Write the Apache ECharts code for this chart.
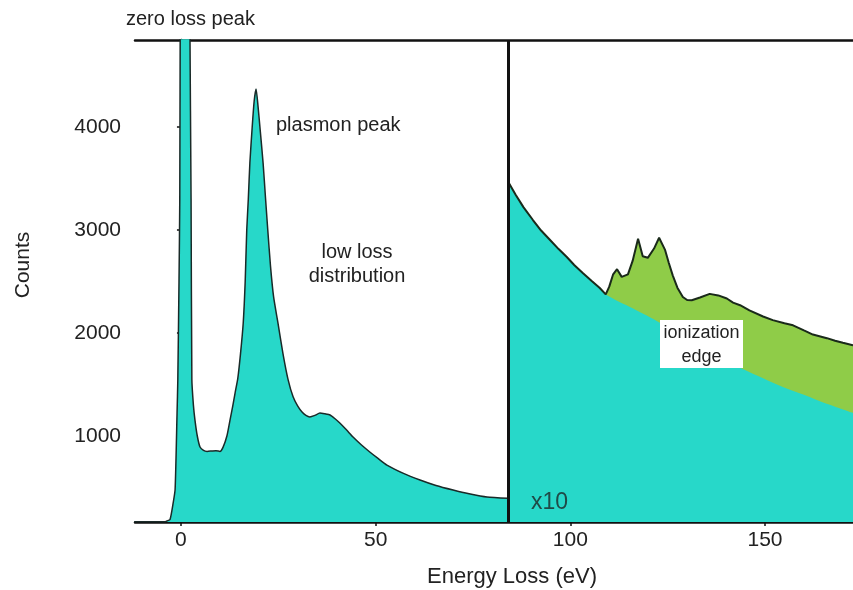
<!DOCTYPE html>
<html>
<head>
<meta charset="utf-8">
<script src="https://cdn.jsdelivr.net/npm/echarts@6/dist/echarts.min.js"></script>
<style>
  html, body { margin: 0; padding: 0; background: #fff; }
  #chart { width: 853px; height: 590px; }
</style>
</head>
<body>
<div id="chart"></div>
<script>
// low loss part (left panel), eV / counts
const lowEnergy = [-12, -4, -3.6, -2.8, -2, -1.5, -1, -0.8, -0.5, -0.3, 0, 1, 2, 2.3, 2.6, 2.8, 3.2, 3.6, 4.2, 4.9,
  5.8, 6.7, 8, 9, 10, 10.8, 11.8, 12.6, 13.3, 13.9, 14.6, 15.3, 16, 16.5, 16.9, 17.3, 17.7, 18.3, 18.8, 19.3,
  19.8, 20.4, 21.1, 21.7, 22.3, 23, 23.8, 24.9, 26.2, 27.5, 28.8, 30, 31.1, 32.1, 33.1, 34.4, 35.7, 37, 38.3,
  39.5, 40.8, 42.5, 44.2, 46.3, 48.5, 50.7, 52.9, 57, 61.4, 65.5, 69.9, 74, 78.6, 84]
const lowCounts = [168, 168, 175, 190, 350, 480, 1220, 1550, 2500, 3300, 8000, 20000, 8000, 5000, 3300, 1550, 1300, 1155, 1000, 893,
  860, 850, 855, 858, 850, 890, 1000, 1155, 1290, 1417, 1560, 1800, 2100, 2500, 3000, 3300, 3650, 4000, 4250, 4370,
  4200, 3950, 3650, 3320, 3000, 2650, 2350, 2100, 1800, 1550, 1380, 1290, 1233, 1200, 1185, 1200, 1223, 1215, 1204,
  1170, 1126, 1060, 990, 915, 845, 780, 718, 640, 573, 520, 476, 440, 408, 395]

// core loss part (right panel, x10)
const highEnergy = [84, 86, 88, 90.4, 92.5, 94.8, 97, 99.1, 101, 103.2, 105.5, 107.5, 109.1, 110, 111, 112, 113.2, 114.8,
  116, 117.4, 118.6, 119.9, 121.5, 122.8, 124.3, 125.3, 126.3, 127.5, 128.9, 130, 131.2, 133.3, 135.8, 138, 140.2,
  141.8, 143.6, 146, 149.5, 152, 155, 157.2, 160, 162.3, 165.9, 168, 170, 172.6]
const totalCounts = [3470, 3340, 3220, 3097, 2995, 2903, 2815, 2738, 2660, 2583, 2505, 2440, 2375, 2450, 2570, 2620, 2545, 2570,
  2700, 2915, 2745, 2730, 2820, 2925, 2810, 2680, 2560, 2440, 2350, 2320, 2318, 2345, 2380, 2365, 2335,
  2295, 2270, 2220, 2160, 2125, 2095, 2075, 2025, 1985, 1950, 1925, 1905, 1880]

const bgEnergy = [84, 86, 88, 90.4, 92.5, 94.8, 97, 99.1, 101, 103.2, 105.5, 107.5, 109.1, 116, 123, 130, 137, 144.3,
  149.5, 154.6, 160, 163.3, 168, 172.6]
const bgCounts = [3470, 3340, 3220, 3097, 2995, 2903, 2815, 2738, 2660, 2583, 2505, 2440, 2375, 2240, 2100, 1940, 1790, 1650,
  1560, 1476, 1400, 1350, 1285, 1225]

const xTicks = [0, 50, 100, 150]
const yTicks = [1000, 2000, 3000, 4000]

const pairs = (xs, ys) => xs.map((x, i) => [x, ys[i]])

const cyan = '#27d8c9'
const green = '#8fcc48'
const font = 'Liberation Sans, Arial, sans-serif'

const chart = echarts.init(document.getElementById('chart'))

chart.setOption({
  animation: false,
  grid: { left: 135, right: 0, top: 40, bottom: 68 },
  xAxis: [
    {
      type: 'value',
      min: -11.8,
      max: 172.6,
      axisLine: { lineStyle: { color: '#111', width: 2.5 } },
      axisTick: { customValues: xTicks, length: 4, lineStyle: { color: '#111', width: 1.5 } },
      axisLabel: { customValues: xTicks, color: '#222', fontSize: 21, fontFamily: font, margin: 8 },
      splitLine: { show: false },
    },
    {
      // 只画顶部边框
      type: 'value',
      position: 'top',
      min: -11.8,
      max: 172.6,
      axisLine: { lineStyle: { color: '#111', width: 2.5 } },
      axisTick: { show: false },
      axisLabel: { show: false },
      splitLine: { show: false },
    },
  ],
  yAxis: {
    type: 'value',
    min: 165,
    max: 4845,
    axisLine: { show: true, lineStyle: { color: '#111', width: 2.5 } },
    axisTick: { show: true, customValues: yTicks, length: 4, lineStyle: { color: '#111', width: 1.5 } },
    axisLabel: {
      customValues: yTicks,
      color: '#222',
      fontSize: 21,
      fontFamily: font,
      margin: 14,
      formatter: (v) => String(v),
    },
    splitLine: { show: false },
  },
  series: [
    {
      type: 'line',
      data: pairs(lowEnergy, lowCounts),
      symbol: 'none',
      smooth: 0.2,
      lineStyle: { color: '#1a2a28', width: 1.5 },
      areaStyle: { color: cyan, opacity: 1, origin: 'start' },
      z: 2,
      markLine: {
        silent: true,
        symbol: 'none',
        label: { show: false },
        lineStyle: { color: '#111', width: 3, type: 'solid' },
        data: [{ xAxis: 84 }],
      },
    },
    {
      // 边 + 背景，绿色填充
      type: 'line',
      data: pairs(highEnergy, totalCounts),
      symbol: 'none',
      lineStyle: { width: 0 },
      areaStyle: { color: green, opacity: 1, origin: 'start' },
      z: 2,
    },
    {
      // 边下面的背景
      type: 'line',
      data: pairs(bgEnergy, bgCounts),
      symbol: 'none',
      smooth: 0.3,
      lineStyle: { width: 0 },
      areaStyle: { color: cyan, opacity: 1, origin: 'start' },
      z: 3,
    },
    {
      type: 'line',
      data: pairs(highEnergy, totalCounts),
      symbol: 'none',
      lineStyle: { color: '#1a2a1a', width: 2 },
      z: 4,
    },
  ],
  graphic: [
    {
      type: 'text', x: 126, y: 9, z: 10,
      style: { text: 'zero loss peak', fontSize: 20, fontFamily: font, fill: '#222' },
    },
    {
      type: 'text', x: 276, y: 115, z: 10,
      style: { text: 'plasmon peak', fontSize: 20, fontFamily: font, fill: '#222' },
    },
    {
      type: 'text', x: 357, y: 264, z: 10,
      style: { text: 'low loss\ndistribution', fontSize: 20, fontFamily: font, fill: '#222', align: 'center', verticalAlign: 'middle', lineHeight: 24 },
    },
    {
      type: 'rect', x: 660, y: 320, z: 10,
      shape: { x: 0, y: 0, width: 83, height: 48 },
      style: { fill: '#fff' },
    },
    {
      type: 'text', x: 701.5, y: 345, z: 11,
      style: { text: 'ionization\nedge', fontSize: 18, fontFamily: font, fill: '#222', align: 'center', verticalAlign: 'middle', lineHeight: 24 },
    },
    {
      type: 'text', x: 531, y: 491, z: 10,
      style: { text: 'x10', fontSize: 23, fontFamily: font, fill: '#1f4a47' },
    },
    {
      // x 轴标题，居中于原图位置
      type: 'text', x: 512, y: 577, z: 10,
      style: { text: 'Energy Loss (eV)', fontSize: 22, fontFamily: font, fill: '#222', align: 'center', verticalAlign: 'middle' },
    },
    {
      type: 'text', x: 23, y: 265, rotation: Math.PI / 2, z: 10,
      style: { text: 'Counts', fontSize: 21, fontFamily: font, fill: '#222', align: 'center', verticalAlign: 'middle' },
    },
  ],
})
</script>
</body>
</html>
